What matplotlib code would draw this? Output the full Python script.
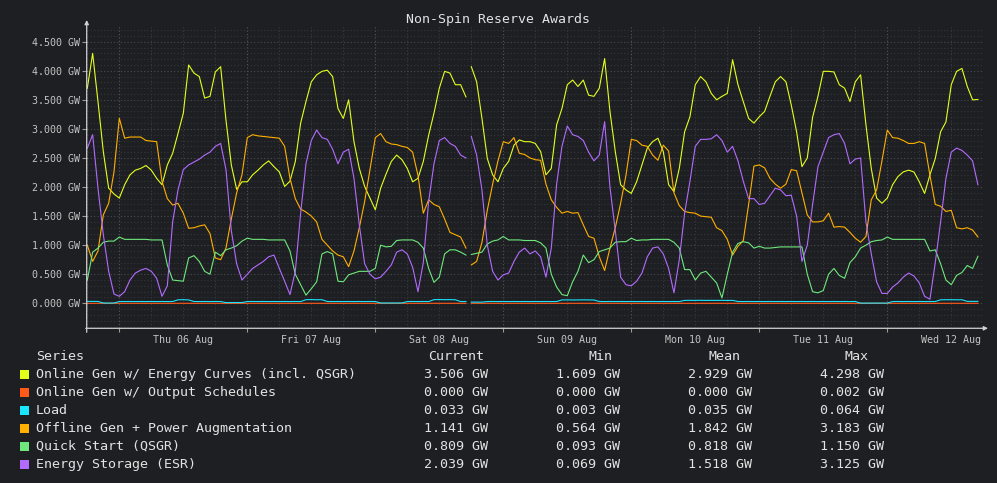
import os

os.environ.setdefault("MPLCONFIGDIR", "/tmp/matplotlib")

import matplotlib
matplotlib.use("Agg")
import matplotlib.pyplot as plt
import matplotlib.dates as mdates
from matplotlib.patches import Rectangle
from matplotlib.ticker import FuncFormatter, MultipleLocator, NullFormatter
import numpy as np
import pandas as pd

# hourly values in GW, starting Wed 05 Aug 18:00
START = "2026-08-05 18:00"
GAP_AT = "2026-08-08 17:30"  # short data break on Sat evening

series_names = [
    "Online Gen w/ Energy Curves (incl. QSGR)",
    "Online Gen w/ Output Schedules",
    "Load",
    "Offline Gen + Power Augmentation",
    "Quick Start (QSGR)",
    "Energy Storage (ESR)",
]
series_colors = ["#e3ff1c", "#ff5a1a", "#1ae6ff", "#ffb000", "#6ee87c", "#b26bff"]

energy_curves = [
    3.70, 4.298, 3.47, 2.61, 1.98, 1.88,
    1.81, 2.04, 2.21, 2.29, 2.32, 2.37, 2.29, 2.15, 2.04, 2.38, 2.58, 2.92,
    3.27, 4.10, 3.96, 3.90, 3.53, 3.56, 3.98, 4.07, 3.15, 2.38, 1.96, 2.09,
    2.09, 2.21, 2.29, 2.38, 2.45, 2.35, 2.26, 2.01, 2.10, 2.44, 3.10, 3.47,
    3.81, 3.93, 3.99, 4.01, 3.90, 3.35, 3.18, 3.50, 2.78, 2.32, 2.01, 1.81,
    1.609, 1.98, 2.22, 2.44, 2.55, 2.47, 2.32, 2.09, 2.15, 2.44, 2.89, 3.27,
    3.70, 3.99, 3.96, 3.76, 3.76, 3.55, 4.07, 3.81, 3.18, 2.49, 2.21, 2.09,
    2.32, 2.44, 2.72, 2.81, 2.78, 2.78, 2.75, 2.61, 2.21, 2.32, 3.07, 3.35,
    3.76, 3.84, 3.73, 3.84, 3.58, 3.56, 3.70, 4.21, 3.30, 2.61, 2.04, 1.95,
    1.89, 2.09, 2.38, 2.67, 2.78, 2.84, 2.61, 2.04, 1.92, 2.32, 2.95, 3.21,
    3.76, 3.90, 3.81, 3.61, 3.50, 3.56, 3.61, 4.19, 3.76, 3.47, 3.18, 3.10,
    3.21, 3.30, 3.56, 3.81, 3.90, 3.81, 3.41, 2.95, 2.35, 2.50, 3.20, 3.56,
    3.99, 3.99, 3.98, 3.76, 3.70, 3.47, 3.81, 3.93, 3.07, 2.32, 1.81, 1.72,
    1.81, 2.04, 2.18, 2.26, 2.29, 2.26, 2.09, 1.89, 2.21, 2.49, 2.95, 3.12,
    3.76, 3.99, 4.04, 3.73, 3.50, 3.506,
]

output_schedules = [
    0.0, 0.0, 0.0, 0.0, 0.0, 0.0,
    0.0, 0.0, 0.0, 0.0, 0.0, 0.0, 0.0, 0.0, 0.0, 0.0, 0.0, 0.0,
    0.0, 0.0, 0.0, 0.0, 0.0, 0.0, 0.0, 0.0, 0.0, 0.0, 0.0, 0.0,
    0.0, 0.0, 0.0, 0.0, 0.0, 0.0, 0.0, 0.0, 0.0, 0.0, 0.0, 0.0,
    0.0, 0.0, 0.0, 0.0, 0.0, 0.0, 0.0, 0.0, 0.0, 0.0, 0.0, 0.0,
    0.0, 0.0, 0.0, 0.0, 0.0, 0.0, 0.0, 0.0, 0.0, 0.0, 0.0, 0.0,
    0.0, 0.0, 0.0, 0.0, 0.0, 0.0, 0.0, 0.0, 0.0, 0.0, 0.0, 0.0,
    0.0, 0.0, 0.0, 0.0, 0.0, 0.0, 0.0, 0.0, 0.0, 0.0, 0.0, 0.0,
    0.0, 0.0, 0.0, 0.0, 0.0, 0.0, 0.0, 0.002, 0.0, 0.0, 0.0, 0.0,
    0.0, 0.0, 0.0, 0.0, 0.0, 0.0, 0.0, 0.0, 0.0, 0.0, 0.0, 0.0,
    0.0, 0.0, 0.0, 0.0, 0.0, 0.0, 0.0, 0.0, 0.0, 0.0, 0.0, 0.0,
    0.0, 0.0, 0.0, 0.0, 0.0, 0.0, 0.0, 0.0, 0.0, 0.0, 0.0, 0.0,
    0.0, 0.0, 0.0, 0.0, 0.0, 0.0, 0.0, 0.0, 0.0, 0.0, 0.0, 0.0,
    0.0, 0.0, 0.0, 0.0, 0.0, 0.0, 0.0, 0.0, 0.0, 0.0, 0.0, 0.0,
    0.0, 0.0, 0.0, 0.0, 0.0, 0.0,
]

load = [
    0.033, 0.033, 0.032, 0.005, 0.004, 0.005,
    0.030, 0.031, 0.031, 0.030, 0.031, 0.030, 0.031, 0.030, 0.031, 0.030, 0.031, 0.060,
    0.062, 0.058, 0.031, 0.030, 0.031, 0.030, 0.031, 0.030, 0.012, 0.012, 0.011, 0.013,
    0.030, 0.031, 0.030, 0.031, 0.030, 0.031, 0.030, 0.031, 0.030, 0.031, 0.030, 0.062,
    0.064, 0.061, 0.062, 0.031, 0.030, 0.031, 0.030, 0.031, 0.030, 0.031, 0.030, 0.031,
    0.030, 0.006, 0.005, 0.006, 0.005, 0.006, 0.030, 0.031, 0.030, 0.031, 0.030, 0.063,
    0.064, 0.062, 0.063, 0.061, 0.030, 0.031, 0.020, 0.021, 0.020, 0.030, 0.031, 0.030,
    0.031, 0.030, 0.031, 0.030, 0.031, 0.030, 0.031, 0.030, 0.031, 0.030, 0.031, 0.058,
    0.059, 0.057, 0.058, 0.059, 0.058, 0.057, 0.031, 0.030, 0.031, 0.030, 0.031, 0.030,
    0.031, 0.030, 0.031, 0.030, 0.031, 0.030, 0.031, 0.030, 0.031, 0.030, 0.050, 0.051,
    0.050, 0.052, 0.050, 0.051, 0.050, 0.051, 0.049, 0.050, 0.031, 0.030, 0.031, 0.030,
    0.031, 0.030, 0.031, 0.030, 0.031, 0.030, 0.031, 0.030, 0.031, 0.030, 0.031, 0.030,
    0.031, 0.030, 0.031, 0.030, 0.031, 0.030, 0.031, 0.003, 0.004, 0.003, 0.004, 0.003,
    0.003, 0.030, 0.031, 0.030, 0.031, 0.030, 0.031, 0.030, 0.031, 0.030, 0.060, 0.061,
    0.062, 0.060, 0.061, 0.033, 0.033, 0.033,
]

offline_gen = [
    1.00, 0.72, 0.90, 1.52, 1.72, 2.26,
    3.183, 2.84, 2.86, 2.86, 2.86, 2.80, 2.79, 2.78, 2.10, 1.80, 1.69, 1.72,
    1.55, 1.29, 1.30, 1.33, 1.35, 1.20, 0.78, 0.75, 0.95, 1.45, 1.90, 2.21,
    2.85, 2.90, 2.88, 2.87, 2.86, 2.85, 2.84, 2.70, 2.15, 1.80, 1.62, 1.57,
    1.50, 1.40, 1.10, 1.00, 0.90, 0.83, 0.80, 0.63, 0.90, 1.30, 1.75, 2.30,
    2.85, 2.92, 2.78, 2.74, 2.73, 2.70, 2.68, 2.60, 2.20, 1.55, 1.78, 1.70,
    1.66, 1.45, 1.22, 1.18, 1.14, 0.95, 0.66, 0.72, 1.05, 1.60, 2.05, 2.45,
    2.78, 2.75, 2.85, 2.58, 2.56, 2.50, 2.47, 2.46, 2.05, 1.78, 1.65, 1.55,
    1.58, 1.55, 1.56, 1.35, 1.15, 1.12, 0.80, 0.564, 0.95, 1.30, 1.72, 2.20,
    2.82, 2.80, 2.72, 2.70, 2.55, 2.46, 2.72, 2.62, 1.90, 1.68, 1.58, 1.56,
    1.55, 1.50, 1.49, 1.48, 1.30, 1.25, 1.10, 0.83, 0.98, 1.08, 1.70, 2.36,
    2.38, 2.33, 2.15, 2.05, 1.98, 2.05, 2.30, 2.28, 1.90, 1.52, 1.40, 1.40,
    1.42, 1.55, 1.31, 1.32, 1.31, 1.22, 1.12, 1.05, 1.15, 1.78, 1.95, 2.45,
    2.98, 2.85, 2.84, 2.80, 2.75, 2.75, 2.78, 2.75, 2.20, 1.70, 1.67, 1.58,
    1.60, 1.30, 1.28, 1.30, 1.26, 1.141,
]

quick_start = [
    0.40, 0.88, 0.95, 1.05, 1.07, 1.07,
    1.14, 1.10, 1.10, 1.10, 1.10, 1.10, 1.09, 1.09, 1.09, 0.66, 0.40, 0.39,
    0.38, 0.78, 0.82, 0.72, 0.55, 0.50, 0.88, 0.82, 0.92, 0.95, 0.99, 1.07,
    1.12, 1.10, 1.10, 1.10, 1.09, 1.09, 1.09, 1.09, 0.90, 0.50, 0.32, 0.14,
    0.25, 0.37, 0.85, 0.89, 0.85, 0.38, 0.37, 0.49, 0.52, 0.55, 0.55, 0.55,
    0.60, 1.00, 0.97, 0.98, 1.08, 1.09, 1.09, 1.09, 1.05, 0.95, 0.60, 0.36,
    0.45, 0.85, 0.92, 0.92, 0.88, 0.83, 0.84, 0.86, 0.88, 1.02, 1.07, 1.09,
    1.15, 1.09, 1.09, 1.09, 1.08, 1.08, 1.08, 1.04, 0.95, 0.50, 0.28, 0.15,
    0.13, 0.37, 0.55, 0.83, 0.70, 0.75, 0.89, 0.92, 0.95, 1.05, 1.06, 1.06,
    1.12, 1.08, 1.09, 1.09, 1.10, 1.10, 1.10, 1.10, 1.05, 0.95, 0.58, 0.58,
    0.40, 0.52, 0.55, 0.45, 0.35, 0.093, 0.50, 0.88, 1.03, 1.06, 1.04, 0.95,
    0.98, 0.95, 0.95, 0.96, 0.97, 0.97, 0.97, 0.97, 0.97, 0.50, 0.20, 0.18,
    0.22, 0.50, 0.60, 0.48, 0.43, 0.70, 0.80, 0.95, 1.00, 1.06, 1.08, 1.09,
    1.14, 1.10, 1.10, 1.10, 1.10, 1.10, 1.10, 1.10, 0.90, 0.92, 0.68, 0.40,
    0.32, 0.48, 0.53, 0.65, 0.60, 0.809,
]

energy_storage = [
    2.67, 2.90, 1.98, 1.18, 0.55, 0.16,
    0.12, 0.20, 0.40, 0.52, 0.57, 0.60, 0.55, 0.43, 0.12, 0.30, 1.40, 1.95,
    2.30, 2.38, 2.43, 2.48, 2.55, 2.60, 2.70, 2.75, 2.30, 1.25, 0.68, 0.40,
    0.50, 0.60, 0.66, 0.72, 0.80, 0.83, 0.60, 0.38, 0.15, 0.55, 1.55, 2.40,
    2.80, 2.98, 2.85, 2.82, 2.65, 2.40, 2.60, 2.65, 2.15, 1.35, 0.68, 0.50,
    0.42, 0.45, 0.55, 0.66, 0.88, 0.92, 0.85, 0.62, 0.20, 0.70, 1.75, 2.40,
    2.80, 2.85, 2.75, 2.70, 2.55, 2.50, 2.87, 2.55, 1.95, 1.00, 0.55, 0.40,
    0.49, 0.52, 0.72, 0.88, 0.95, 0.85, 0.90, 0.80, 0.45, 0.95, 2.05, 2.70,
    3.05, 2.90, 2.87, 2.80, 2.60, 2.45, 2.55, 3.125, 2.00, 1.25, 0.45, 0.32,
    0.30, 0.38, 0.52, 0.80, 0.95, 0.97, 0.85, 0.60, 0.18, 0.75, 1.55, 2.10,
    2.70, 2.82, 2.82, 2.83, 2.90, 2.80, 2.60, 2.70, 2.45, 2.10, 1.80, 1.80,
    1.70, 1.72, 1.85, 1.98, 1.95, 1.85, 1.86, 1.50, 0.72, 1.00, 1.70, 2.35,
    2.60, 2.85, 2.90, 2.92, 2.75, 2.40, 2.48, 2.50, 1.40, 0.85, 0.37, 0.17,
    0.17, 0.28, 0.35, 0.45, 0.52, 0.47, 0.35, 0.12, 0.069, 0.70, 1.40, 2.15,
    2.60, 2.67, 2.63, 2.55, 2.45, 2.039,
]

# summary table as shown under the chart
stat_current = [3.506, 0.000, 0.033, 1.141, 0.809, 2.039]
stat_min = [1.609, 0.000, 0.003, 0.564, 0.093, 0.069]
stat_mean = [2.929, 0.000, 0.035, 1.842, 0.818, 1.518]
stat_max = [4.298, 0.002, 0.064, 3.183, 1.150, 3.125]

BG = "#1e1f22"
TEXT = "#e2e2e2"
TICK = "#c4c4c4"
W, H = 997, 483


def noon_label(x, pos):
    d = mdates.num2date(x)
    return d.strftime("%a %d %b") if d.hour == 12 else ""


def main():
    plt.rcParams["font.family"] = ["DejaVu Sans Mono"]

    series = [energy_curves, output_schedules, load, offline_gen, quick_start, energy_storage]
    times = pd.date_range(START, periods=len(energy_curves), freq="h")
    df = pd.DataFrame({n: s for n, s in zip(series_names, series)}, index=times)
    df.loc[pd.Timestamp(GAP_AT)] = np.nan
    df = df.sort_index()

    fig = plt.figure(figsize=(W / 100, H / 100), dpi=100, facecolor=BG)
    ax_l, ax_r, ax_t, ax_b = 86.7, 983.0, 26.0, 328.3
    ax = fig.add_axes([ax_l / W, 1 - ax_b / H, (ax_r - ax_l) / W, (ax_b - ax_t) / H])
    ax.set_facecolor(BG)

    for name, color in zip(series_names, series_colors):
        ax.plot(df.index, df[name], color=color, linewidth=0.8)

    ax.set_xlim(pd.Timestamp("2026-08-05 17:53"), pd.Timestamp("2026-08-12 17:57"))
    ax.set_ylim(-0.43, 4.77)

    ax.yaxis.set_major_locator(MultipleLocator(0.5))
    ax.yaxis.set_minor_locator(MultipleLocator(0.1))
    ax.yaxis.set_major_formatter(FuncFormatter(lambda v, p: f"{v:.3f} GW"))
    ax.xaxis.set_major_locator(mdates.DayLocator())
    ax.xaxis.set_minor_locator(mdates.HourLocator(byhour=[6, 12, 18]))
    ax.xaxis.set_major_formatter(NullFormatter())
    ax.xaxis.set_minor_formatter(FuncFormatter(noon_label))

    dots = (0, (1, 2))
    ax.grid(which="major", axis="y", color="#4a4b50", linestyle=dots, linewidth=0.8)
    ax.grid(which="minor", axis="y", color="#34353a", linestyle=dots, linewidth=0.8)
    ax.grid(which="major", axis="x", color="#56575c", linestyle=dots, linewidth=0.8)
    ax.grid(which="minor", axis="x", color="#3a3b40", linestyle=dots, linewidth=0.8)
    ax.set_axisbelow(True)

    ax.tick_params(axis="y", which="major", length=3.5, width=0.8, color="#9a9a9a",
                   pad=1.0, labelsize=7.2, labelcolor=TICK)
    ax.tick_params(axis="y", which="minor", length=0)
    ax.tick_params(axis="x", which="major", length=3.0, width=0.8, color="#9a9a9a")
    ax.tick_params(axis="x", which="minor", length=0, pad=4.5, labelsize=7.2, labelcolor=TICK)

    for sp in ax.spines.values():
        sp.set_visible(False)
    h_px, w_px = ax_b - ax_t, ax_r - ax_l
    arrow = dict(arrowstyle="-|>", color="#d0d0d0", lw=0.9, mutation_scale=6,
                 shrinkA=0, shrinkB=0)
    ax.annotate("", xy=(0, 1 + 6 / h_px), xytext=(0, -4 / h_px), xycoords="axes fraction",
                arrowprops=arrow, annotation_clip=False)
    ax.annotate("", xy=(1 + 5 / w_px, 0), xytext=(-1 / w_px, 0), xycoords="axes fraction",
                arrowprops=arrow, annotation_clip=False)

    fig.text(498 / W, 1 - 19 / H, "Non-Spin Reserve Awards", ha="center", va="center",
             fontsize=9.5, color=TEXT)

    # summary table
    header_y = 356
    row_y = [374.3, 392.3, 410.2, 428.3, 446.2, 464.3]
    fs = 9.6
    fig.text(36 / W, 1 - header_y / H, "Series", ha="left", va="center", fontsize=fs, color=TEXT)
    cols = [("Current", 456, 456, stat_current), ("Min", 600, 588, stat_min),
            ("Mean", 724, 720, stat_mean), ("Max", 856, 852, stat_max)]
    for title, hx, vx, vals in cols:
        fig.text(hx / W, 1 - header_y / H, title, ha="center", va="center", fontsize=fs, color=TEXT)
        for y, v in zip(row_y, vals):
            fig.text(vx / W, 1 - y / H, f"{v:.3f} GW", ha="center", va="center",
                     fontsize=fs, color=TEXT)
    for y, name, color in zip(row_y, series_names, series_colors):
        fig.add_artist(Rectangle((20 / W, 1 - (y + 4.5) / H), 8.5 / W, 8.5 / H,
                                 transform=fig.transFigure, facecolor=color, edgecolor="none"))
        fig.text(36 / W, 1 - y / H, name, ha="left", va="center", fontsize=fs, color=TEXT)

    fig.savefig("out.png", dpi=100, facecolor=BG)


if __name__ == "__main__":
    main()
